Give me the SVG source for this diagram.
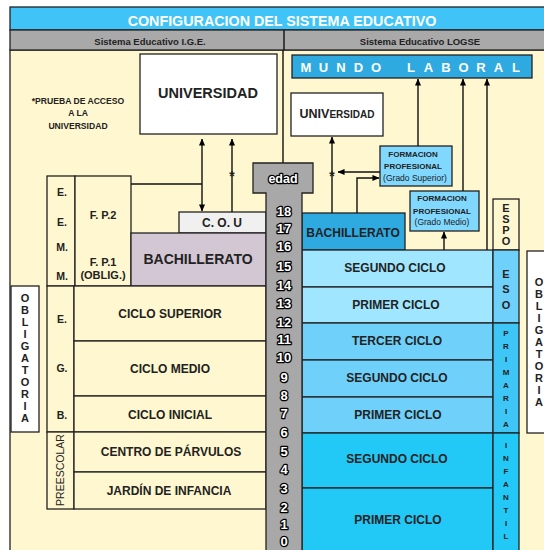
<svg xmlns="http://www.w3.org/2000/svg" width="544" height="550" viewBox="0 0 544 550">
<defs>
<marker id="ah" viewBox="0 0 8 8" refX="7.5" refY="4" markerWidth="7" markerHeight="7" markerUnits="userSpaceOnUse" orient="auto-start-reverse"><path d="M0,0.5 L8,4 L0,7.5 z" fill="#000"/></marker>
</defs>
<style>
text{font-family:"Liberation Sans",Arial,sans-serif;font-weight:bold;fill:#222}
.c{text-anchor:middle}
.box{stroke:#222;stroke-width:1.3}
.ln{stroke:#111;stroke-width:1.4;fill:none}
.num{font-size:13px;fill:#fff;stroke:#000;stroke-width:2.6;paint-order:stroke;stroke-linejoin:round;text-anchor:middle}
.v11{font-size:11px;text-anchor:middle}
.v8{font-size:8px;text-anchor:middle}
.fp{font-size:8px;text-anchor:middle}
.fpr{font-size:8.5px;font-weight:normal;text-anchor:middle}
.star{font-size:14px;text-anchor:middle}
</style>
<rect x="0" y="0" width="544" height="550" fill="#fff"/>
<rect x="10" y="50" width="540" height="505" fill="#FFF7CF" class="box"/>

<g id="header">
<rect x="10" y="7" width="540" height="23" fill="#40C4F8" class="box"/>
<text x="282" y="26" class="c" style="font-size:14.3px;fill:#fff">CONFIGURACION DEL SISTEMA EDUCATIVO</text>
<rect x="10" y="30" width="540" height="20" fill="#A9A9A9" class="box"/>
<line x1="284" y1="30" x2="284" y2="50" class="ln"/>
<text x="150" y="45" class="c" style="font-size:9.5px">Sistema Educativo I.G.E.</text>
<text x="420" y="45" class="c" style="font-size:9.5px">Sistema Educativo LOGSE</text>
</g>

<g id="divider"><line x1="283" y1="50" x2="283" y2="163" class="ln"/></g>

<g id="universidad-ige">
<rect x="140" y="54" width="137" height="80" fill="#fff" class="box"/>
<text x="208" y="98" class="c" style="font-size:14.5px">UNIVERSIDAD</text>
</g>
<g id="nota-pau">
<text x="78" y="104" class="c" style="font-size:8.6px">*PRUEBA DE ACCESO</text>
<text x="78" y="116" class="c" style="font-size:8.6px">A LA</text>
<text x="78" y="129" class="c" style="font-size:8.6px">UNIVERSIDAD</text>
</g>

<g id="eemm">
<rect x="47" y="176" width="28" height="110" fill="#FFF7CF" class="box"/>
<text x="62" y="196" class="c" style="font-size:10.5px">E.</text>
<text x="62" y="226" class="c" style="font-size:10.5px">E.</text>
<text x="62" y="251" class="c" style="font-size:10.5px">M.</text>
<text x="62" y="280" class="c" style="font-size:10.5px">M.</text>
</g>
<g id="fp-ige">
<rect x="75" y="176" width="56" height="110" fill="#FFF7CF" class="box"/>
<text x="103" y="219" class="c" style="font-size:11px">F. P.2</text>
<text x="103" y="266" class="c" style="font-size:11px">F. P.1</text>
<text x="103" y="279" class="c" style="font-size:11px">(OBLIG.)</text>
</g>
<g id="cou">
<rect x="179" y="212" width="87" height="21" fill="#F0F0F0" class="box"/>
<text x="222" y="227" class="c" style="font-size:12px">C. O. U</text>
</g>
<g id="bach-ige">
<rect x="131" y="233" width="135" height="53" fill="#D3C7D3" class="box"/>
<text x="198" y="264" class="c" style="font-size:14px">BACHILLERATO</text>
</g>

<g id="obligatoria-ige">
<rect x="11" y="286" width="28" height="146" fill="#fff" class="box"/>
<text x="25" class="v11" y="302">O</text><text x="25" class="v11" y="314">B</text><text x="25" class="v11" y="326">L</text><text x="25" class="v11" y="338">I</text><text x="25" class="v11" y="350">G</text><text x="25" class="v11" y="362">A</text><text x="25" class="v11" y="374">T</text><text x="25" class="v11" y="386">O</text><text x="25" class="v11" y="398">R</text><text x="25" class="v11" y="410">I</text><text x="25" class="v11" y="422">A</text>
</g>
<g id="egb">
<rect x="47" y="286" width="27" height="146" fill="#FFF7CF" class="box"/>
<text x="62" y="323" class="c" style="font-size:10.5px">E.</text>
<text x="62" y="372" class="c" style="font-size:10.5px">G.</text>
<text x="62" y="419" class="c" style="font-size:10.5px">B.</text>
</g>
<g id="ciclo-superior"><rect x="74" y="286" width="192" height="55" fill="#FFF7CF" class="box"/><text x="170" y="318" class="c" style="font-size:12px">CICLO SUPERIOR</text></g>
<g id="ciclo-medio"><rect x="74" y="341" width="192" height="55" fill="#FFF7CF" class="box"/><text x="170" y="373" class="c" style="font-size:12px">CICLO MEDIO</text></g>
<g id="ciclo-inicial"><rect x="74" y="396" width="192" height="36" fill="#FFF7CF" class="box"/><text x="170" y="419" class="c" style="font-size:12px">CICLO INICIAL</text></g>
<g id="preescolar">
<rect x="47" y="432" width="27" height="77" fill="#FFF7CF" class="box"/>
<text transform="translate(64,470) rotate(-90)" class="c" style="font-size:10.5px;font-weight:normal">PREESCOLAR</text>
</g>
<g id="parvulos"><rect x="74" y="432" width="192" height="40" fill="#FFF7CF" class="box"/><text x="171" y="456" class="c" style="font-size:12px">CENTRO DE PÁRVULOS</text></g>
<g id="jardin"><rect x="74" y="472" width="192" height="37" fill="#FFF7CF" class="box"/><text x="169" y="495" class="c" style="font-size:12px">JARDÍN DE INFANCIA</text></g>

<g id="mundo-laboral">
<rect x="292" y="55" width="240" height="23" fill="#2EAAE1" class="box"/>
<text y="72" class="c" style="font-size:13px;fill:#fff" x="306 323.5 341 358.5 376">MUNDO</text>
<text y="72" class="c" style="font-size:13px;fill:#fff" x="411 428.5 446 463.5 481 498.5 516">LABORAL</text>
</g>
<g id="universidad-logse">
<rect x="291" y="93" width="92" height="43" fill="#fff" class="box"/>
<text x="337" y="118" class="c"><tspan style="font-size:12.5px">UNIV</tspan><tspan style="font-size:10px">ERSIDAD</tspan></text>
</g>
<g id="fp-superior">
<rect x="380" y="146" width="72" height="40" fill="#80D8FF" class="box"/>
<text x="413" y="157" class="fp">FORMACION</text>
<text x="413" y="169" class="fp">PROFESIONAL</text>
<text x="415" y="181" class="fpr">(Grado Superior)</text>
</g>
<g id="fp-medio">
<rect x="410" y="191" width="69" height="40" fill="#80D8FF" class="box"/>
<text x="442" y="201" class="fp">FORMACION</text>
<text x="442" y="214" class="fp">PROFESIONAL</text>
<text x="442" y="225" class="fpr">(Grado Medio)</text>
</g>
<g id="bach-logse">
<rect x="302" y="213" width="103" height="37" fill="#2EAAE1" class="box"/>
<text x="353" y="237" class="c" style="font-size:12px">BACHILLERATO</text>
</g>
<g id="espo">
<rect x="493" y="199" width="26" height="51" fill="#FFF7CF" class="box"/>
<text x="506" class="v11" y="212">E</text><text x="506" class="v11" y="223">S</text><text x="506" class="v11" y="234">P</text><text x="506" class="v11" y="245">O</text>
</g>
<g id="eso-segundo"><rect x="302" y="250" width="191" height="37" fill="#A0E6FF" class="box"/><text x="395" y="272" class="c" style="font-size:12px">SEGUNDO CICLO</text></g>
<g id="eso-primero"><rect x="302" y="287" width="191" height="36" fill="#A0E6FF" class="box"/><text x="396" y="309" class="c" style="font-size:12px">PRIMER CICLO</text></g>
<g id="eso">
<rect x="493" y="250" width="26" height="73" fill="#6FD0FA" class="box"/>
<text x="506" class="v11" y="278">E</text><text x="506" class="v11" y="293">S</text><text x="506" class="v11" y="309">O</text>
</g>
<g id="prim-tercer"><rect x="302" y="323" width="191" height="37" fill="#6FD0FA" class="box"/><text x="397" y="345" class="c" style="font-size:12px">TERCER CICLO</text></g>
<g id="prim-segundo"><rect x="302" y="360" width="191" height="37" fill="#6FD0FA" class="box"/><text x="397" y="382" class="c" style="font-size:12px">SEGUNDO CICLO</text></g>
<g id="prim-primero"><rect x="302" y="397" width="191" height="36" fill="#6FD0FA" class="box"/><text x="398" y="419" class="c" style="font-size:12px">PRIMER CICLO</text></g>
<g id="primaria">
<rect x="493" y="323" width="26" height="110" fill="#3EC6F6" class="box"/>
<text x="506" class="v8" y="336">P</text><text x="506" class="v8" y="349">R</text><text x="506" class="v8" y="362">I</text><text x="506" class="v8" y="375">M</text><text x="506" class="v8" y="388">A</text><text x="506" class="v8" y="401">R</text><text x="506" class="v8" y="414">I</text><text x="506" class="v8" y="427">A</text>
</g>
<g id="inf-segundo"><rect x="302" y="433" width="191" height="55" fill="#22C8F6" class="box"/><text x="397" y="463" class="c" style="font-size:12px">SEGUNDO CICLO</text></g>
<g id="inf-primero"><rect x="302" y="488" width="191" height="70" fill="#22C8F6" class="box"/><text x="398" y="524" class="c" style="font-size:12px">PRIMER CICLO</text></g>
<g id="infantil">
<rect x="493" y="433" width="26" height="125" fill="#22C8F6" class="box"/>
<text x="506" class="v8" y="448">I</text><text x="506" class="v8" y="461">N</text><text x="506" class="v8" y="474">F</text><text x="506" class="v8" y="487">A</text><text x="506" class="v8" y="500">N</text><text x="506" class="v8" y="513">T</text><text x="506" class="v8" y="526">I</text><text x="506" class="v8" y="539">L</text>
</g>
<g id="obligatoria-logse">
<rect x="527" y="251" width="30" height="182" fill="#fff" class="box"/>
<text x="539" class="v11" y="286">O</text><text x="539" class="v11" y="298">B</text><text x="539" class="v11" y="310">L</text><text x="539" class="v11" y="322">I</text><text x="539" class="v11" y="334">G</text><text x="539" class="v11" y="346">A</text><text x="539" class="v11" y="358">T</text><text x="539" class="v11" y="370">O</text><text x="539" class="v11" y="382">R</text><text x="539" class="v11" y="394">I</text><text x="539" class="v11" y="406">A</text>
</g>

<g id="edad">
<path d="M253,163 H313 V193 H302 V555 H266 V193 H253 Z" fill="#A8A8A8" class="box"/>
<text x="283" y="183" class="num" style="font-size:12.5px">edad</text>
<text x="284" class="num" y="216">18</text><text x="284" class="num" y="233">17</text><text x="284" class="num" y="251">16</text><text x="284" class="num" y="271">15</text><text x="284" class="num" y="290">14</text><text x="284" class="num" y="308">13</text><text x="284" class="num" y="327">12</text><text x="284" class="num" y="344">11</text><text x="284" class="num" y="362">10</text><text x="284" class="num" y="382">9</text><text x="284" class="num" y="400">8</text><text x="284" class="num" y="418">7</text><text x="284" class="num" y="437">6</text><text x="284" class="num" y="456">5</text><text x="284" class="num" y="474">4</text><text x="284" class="num" y="493">3</text><text x="284" class="num" y="512">2</text><text x="284" class="num" y="529">1</text><text x="284" class="num" y="546">0</text>
</g>

<g id="connectors">
<polyline points="131,184 202,184" class="ln"/>
<line x1="202" y1="184" x2="202" y2="139" class="ln" marker-end="url(#ah)"/>
<line x1="202" y1="184" x2="202" y2="211" class="ln" marker-end="url(#ah)"/>
<line x1="232" y1="212" x2="232" y2="139" class="ln" marker-end="url(#ah)"/>
<text x="232" y="181" class="star">*</text>
<line x1="332" y1="213" x2="332" y2="137" class="ln" marker-end="url(#ah)"/>
<text x="332" y="181" class="star">*</text>
<line x1="380" y1="172" x2="338" y2="172" class="ln" marker-end="url(#ah)"/>
<polyline points="357,213 357,178 379,178" class="ln" marker-end="url(#ah)"/>
<line x1="418" y1="146" x2="418" y2="79" class="ln" marker-end="url(#ah)"/>
<line x1="463" y1="191" x2="463" y2="79" class="ln" marker-end="url(#ah)"/>
<line x1="487" y1="250" x2="487" y2="79" class="ln" marker-end="url(#ah)"/>
<line x1="444" y1="250" x2="444" y2="232" class="ln" marker-end="url(#ah)"/>
</g>
</svg>
